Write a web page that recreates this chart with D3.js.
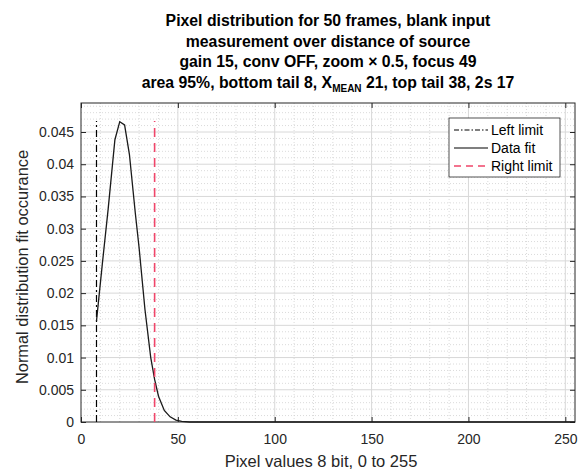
<!DOCTYPE html>
<html>
<head>
<meta charset="utf-8">
<script src="https://cdn.jsdelivr.net/npm/d3@7"></script>
<style>
  body { margin: 0; background: #fff; }
  svg { font-family: "Liberation Sans", Arial, sans-serif; }
</style>
</head>
<body>
<div id="chart"></div>
<script>
// values
const titleLines = [
  "Pixel distribution for 50 frames, blank input",
  "measurement over distance of source",
  "gain 15, conv OFF, zoom \u00d7 0.5, focus 49"
];
const fitX = [8, 11, 14, 17.5, 20, 22.5, 25, 28, 30, 33, 36, 38, 40, 43, 46, 49, 52, 56, 255];
const fitY = [0.0157, 0.0245, 0.0330, 0.0438, 0.0466, 0.0461, 0.0415, 0.0325, 0.0270, 0.0175,
              0.0100, 0.0066, 0.0040, 0.0018, 0.0008, 0.0003, 0.0001, 0, 0];
const leftLimit = 8;
const rightLimit = 38;
const limitTop = 0.0467;
const xTicks = [0, 50, 100, 150, 200, 250];
const yTicks = [0, 0.005, 0.01, 0.015, 0.02, 0.025, 0.03, 0.035, 0.04, 0.045];
const legendLabels = ["Left limit", "Data fit", "Right limit"];

const width = 584, height = 473;
const margin = {top: 103, right: 9, bottom: 51, left: 81};
const plotW = width - margin.left - margin.right;
const plotH = height - margin.top - margin.bottom;

const svg = d3.select("#chart").append("svg")
    .attr("width", width)
    .attr("height", height);

const x = d3.scaleLinear().domain([0, 255]).range([0, plotW]);
const y = d3.scaleLinear().domain([0, 0.0495]).range([plotH, 0]);

const g = svg.append("g")
    .attr("transform", "translate(" + margin.left + "," + margin.top + ")");

// minor grid
g.append("g").selectAll("line")
    .data(d3.range(10, 256, 10).filter(v => v % 50 !== 0))
    .enter().append("line")
    .attr("x1", d => x(d)).attr("x2", d => x(d))
    .attr("y1", 0).attr("y2", plotH)
    .attr("stroke", "#d0d0d0").attr("stroke-width", 0.8)
    .attr("stroke-dasharray", "1,2");
g.append("g").selectAll("line")
    .data(d3.range(1, 50).map(v => v / 1000).filter((v, i) => (i + 1) % 5 !== 0))
    .enter().append("line")
    .attr("x1", 0).attr("x2", plotW)
    .attr("y1", d => y(d)).attr("y2", d => y(d))
    .attr("stroke", "#d0d0d0").attr("stroke-width", 0.8)
    .attr("stroke-dasharray", "1,2");

// major grid
g.append("g").selectAll("line")
    .data(xTicks.slice(1))
    .enter().append("line")
    .attr("x1", d => x(d)).attr("x2", d => x(d))
    .attr("y1", 0).attr("y2", plotH)
    .attr("stroke", "#d8d8d8");
g.append("g").selectAll("line")
    .data(yTicks.slice(1))
    .enter().append("line")
    .attr("x1", 0).attr("x2", plotW)
    .attr("y1", d => y(d)).attr("y2", d => y(d))
    .attr("stroke", "#d8d8d8");

// axes, ticks inside like matlab
const axisStyle = sel => {
  sel.select(".domain").remove();
  sel.selectAll("line").attr("stroke", "#262626");
  sel.selectAll("text").attr("fill", "#262626").style("font-size", "14px");
};
g.append("g")
    .attr("transform", "translate(0," + plotH + ")")
    .call(d3.axisBottom(x).tickValues(xTicks).tickSizeInner(-5).tickPadding(12))
    .call(axisStyle);
g.append("g")
    .call(d3.axisTop(x).tickValues(xTicks).tickSizeInner(-5).tickFormat(""))
    .call(axisStyle);
g.append("g")
    .call(d3.axisLeft(y).tickValues(yTicks).tickSizeInner(-5).tickPadding(7)
      .tickFormat(d => d === 0 ? "0" : d3.format("")(+d.toFixed(3))))
    .call(axisStyle);
g.append("g")
    .attr("transform", "translate(" + plotW + ",0)")
    .call(d3.axisRight(y).tickValues(yTicks).tickSizeInner(-5).tickFormat(""))
    .call(axisStyle);

g.append("rect")
    .attr("width", plotW).attr("height", plotH)
    .attr("fill", "none").attr("stroke", "#262626");

// limits and fit
g.append("line")
    .attr("x1", x(leftLimit)).attr("x2", x(leftLimit))
    .attr("y1", y(0)).attr("y2", y(limitTop))
    .attr("stroke", "#000").attr("stroke-width", 1.2)
    .attr("stroke-dasharray", "7,3,2,3");

const fitData = fitX.map((d, i) => [d, fitY[i]]);
g.append("path")
    .datum(fitData)
    .attr("fill", "none")
    .attr("stroke", "#1a1a1a")
    .attr("stroke-width", 1.3)
    .attr("d", d3.line().x(d => x(d[0])).y(d => y(d[1])));

g.append("line")
    .attr("x1", x(rightLimit)).attr("x2", x(rightLimit))
    .attr("y1", y(0)).attr("y2", y(limitTop))
    .attr("stroke", "#f0466a").attr("stroke-width", 1.6)
    .attr("stroke-dasharray", "9,6");

// legend
const lg = svg.append("g").attr("transform", "translate(449,118)");
lg.append("rect")
    .attr("width", 111).attr("height", 59)
    .attr("fill", "#fff").attr("stroke", "#262626").attr("stroke-width", 0.8);
const legStyles = [
  {stroke: "#000", dash: "5,2,1.5,2", w: 1.2},
  {stroke: "#000", dash: null, w: 1.2},
  {stroke: "#f0466a", dash: "7,5", w: 1.5}
];
legendLabels.forEach((lab, i) => {
  const yy = 12 + i * 18;
  lg.append("line")
      .attr("x1", 5).attr("x2", 39).attr("y1", yy).attr("y2", yy)
      .attr("stroke", legStyles[i].stroke)
      .attr("stroke-width", legStyles[i].w)
      .attr("stroke-dasharray", legStyles[i].dash);
  lg.append("text")
      .attr("x", 42).attr("y", yy + 5)
      .style("font-size", "14px").attr("fill", "#000")
      .text(lab);
});

// title
const cx = 328;
const tg = svg.append("g")
    .style("font-size", "15.8px").style("font-weight", "bold")
    .attr("fill", "#000");
titleLines.forEach((t, i) => {
  tg.append("text")
      .attr("x", cx).attr("y", 26 + i * 20.7)
      .attr("text-anchor", "middle")
      .text(t);
});
const t4 = tg.append("text")
    .attr("x", cx).attr("y", 26 + 3 * 20.7)
    .attr("text-anchor", "middle");
t4.append("tspan").text("area 95%, bottom tail 8, X");
t4.append("tspan").attr("dy", 3.5).style("font-size", "10px").text("MEAN");
t4.append("tspan").attr("dy", -3.5).text(" 21, top tail 38, 2s 17");

// axis labels
svg.append("text")
    .attr("x", 321).attr("y", 467)
    .attr("text-anchor", "middle")
    .style("font-size", "16.5px").attr("fill", "#262626")
    .text("Pixel values 8 bit, 0 to 255");
svg.append("text")
    .attr("transform", "translate(28,267) rotate(-90)")
    .attr("text-anchor", "middle")
    .style("font-size", "16.4px").attr("fill", "#262626")
    .text("Normal distribution fit occurance");
</script>
</body>
</html>
